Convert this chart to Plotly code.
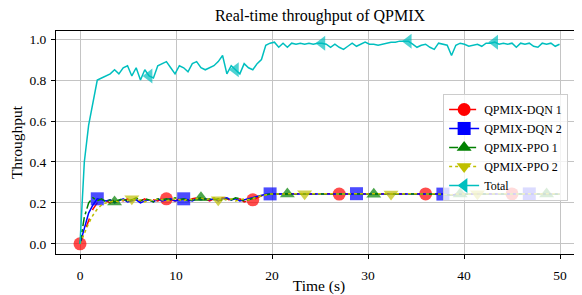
import plotly.graph_objects as go

# ---- data (sampled every 0.45 s) ----
time = [round(i * 0.45, 2) for i in range(112)]

total = [0.0, 0.40, 0.58, 0.70, 0.80, 0.81, 0.82, 0.83, 0.85, 0.83,
         0.86, 0.87, 0.82, 0.86, 0.80, 0.85, 0.82, 0.81, 0.87, 0.88,
         0.89, 0.86, 0.83, 0.87, 0.86, 0.84, 0.88, 0.89, 0.86, 0.85,
         0.86, 0.87, 0.89, 0.92, 0.83, 0.87, 0.85, 0.83, 0.88, 0.86,
         0.85, 0.88, 0.90, 0.97, 0.98, 0.985, 0.96, 0.98, 0.96, 0.98,
         0.975, 0.98, 0.975, 0.98, 0.975, 0.98, 0.98, 0.975, 0.96, 0.975,
         0.96, 0.95, 0.965, 0.98, 0.965, 0.975, 0.985, 0.975, 0.975, 0.97,
         0.975, 0.98, 0.985, 0.985, 0.99, 0.99, 0.99, 0.975, 0.96, 0.97,
         0.975, 0.96, 0.95, 0.98, 0.975, 0.97, 0.92, 0.97, 0.98, 0.975,
         0.965, 0.97, 0.975, 0.965, 0.98, 0.98, 0.985, 0.975, 0.98, 0.975,
         0.98, 0.96, 0.98, 0.975, 0.98, 0.965, 0.96, 0.98, 0.975, 0.98,
         0.965, 0.975]

dqn1 = [0.0, 0.06, 0.12, 0.17, 0.20, 0.205, 0.21, 0.20, 0.215, 0.205,
        0.21, 0.22, 0.205, 0.215, 0.21, 0.22, 0.20, 0.215, 0.21, 0.22,
        0.22, 0.215, 0.21, 0.22, 0.215, 0.21, 0.22, 0.225, 0.215, 0.22,
        0.21, 0.22, 0.215, 0.225, 0.22, 0.21, 0.215, 0.22, 0.205, 0.21,
        0.215, 0.225, 0.235, 0.24, 0.245, 0.243, 0.245, 0.242, 0.244, 0.243,
        0.245, 0.244, 0.243, 0.245, 0.244, 0.243, 0.245, 0.244, 0.243, 0.244,
        0.243, 0.244, 0.245, 0.243, 0.244, 0.243, 0.244, 0.245, 0.244, 0.243,
        0.244, 0.243, 0.244, 0.245, 0.244, 0.243, 0.244, 0.243, 0.244, 0.245,
        0.244, 0.243, 0.244, 0.243, 0.244, 0.240, 0.238, 0.242, 0.244, 0.243,
        0.244, 0.243, 0.244, 0.245, 0.244, 0.243, 0.244, 0.243, 0.244, 0.243,
        0.244, 0.243, 0.244, 0.245, 0.244, 0.243, 0.244, 0.243, 0.244, 0.243,
        0.244, 0.243]

dqn2 = [0.0, 0.08, 0.15, 0.19, 0.22, 0.215, 0.21, 0.215, 0.20, 0.21,
        0.22, 0.205, 0.21, 0.215, 0.20, 0.21, 0.215, 0.205, 0.22, 0.21,
        0.215, 0.22, 0.21, 0.215, 0.22, 0.215, 0.21, 0.22, 0.215, 0.22,
        0.215, 0.22, 0.21, 0.22, 0.225, 0.215, 0.22, 0.21, 0.215, 0.22,
        0.225, 0.23, 0.238, 0.242, 0.244, 0.243, 0.244, 0.245, 0.243, 0.244,
        0.243, 0.245, 0.244, 0.243, 0.244, 0.245, 0.243, 0.244, 0.243, 0.244,
        0.245, 0.243, 0.244, 0.243, 0.245, 0.244, 0.243, 0.244, 0.245, 0.243,
        0.244, 0.243, 0.245, 0.244, 0.243, 0.244, 0.245, 0.243, 0.244, 0.243,
        0.244, 0.245, 0.243, 0.244, 0.243, 0.239, 0.237, 0.241, 0.243, 0.244,
        0.243, 0.245, 0.244, 0.243, 0.244, 0.245, 0.243, 0.244, 0.243, 0.244,
        0.245, 0.243, 0.244, 0.243, 0.244, 0.245, 0.243, 0.244, 0.243, 0.244,
        0.243, 0.244]

ppo1 = [0.0, 0.13, 0.20, 0.225, 0.21, 0.22, 0.205, 0.215, 0.205, 0.215,
        0.22, 0.21, 0.215, 0.225, 0.21, 0.22, 0.215, 0.205, 0.22, 0.215,
        0.22, 0.215, 0.225, 0.215, 0.22, 0.21, 0.215, 0.22, 0.225, 0.215,
        0.22, 0.215, 0.22, 0.21, 0.22, 0.215, 0.225, 0.22, 0.21, 0.215,
        0.22, 0.228, 0.236, 0.24, 0.243, 0.244, 0.242, 0.243, 0.244, 0.243,
        0.244, 0.242, 0.243, 0.244, 0.243, 0.242, 0.244, 0.243, 0.244, 0.242,
        0.243, 0.244, 0.243, 0.242, 0.244, 0.243, 0.244, 0.243, 0.242, 0.244,
        0.243, 0.244, 0.242, 0.243, 0.244, 0.243, 0.242, 0.244, 0.243, 0.244,
        0.243, 0.242, 0.244, 0.243, 0.241, 0.238, 0.239, 0.242, 0.243, 0.244,
        0.243, 0.242, 0.244, 0.243, 0.244, 0.243, 0.242, 0.244, 0.243, 0.244,
        0.243, 0.242, 0.244, 0.243, 0.244, 0.243, 0.242, 0.244, 0.243, 0.244,
        0.243, 0.242]

ppo2 = [0.0, 0.05, 0.10, 0.14, 0.17, 0.19, 0.20, 0.205, 0.21, 0.205,
        0.215, 0.21, 0.22, 0.21, 0.215, 0.205, 0.215, 0.21, 0.22, 0.215,
        0.21, 0.215, 0.22, 0.215, 0.21, 0.22, 0.215, 0.22, 0.225, 0.215,
        0.22, 0.225, 0.215, 0.22, 0.215, 0.22, 0.21, 0.215, 0.22, 0.215,
        0.22, 0.228, 0.235, 0.24, 0.243, 0.244, 0.243, 0.245, 0.244, 0.245,
        0.244, 0.243, 0.245, 0.244, 0.245, 0.243, 0.244, 0.245, 0.244, 0.243,
        0.245, 0.244, 0.243, 0.245, 0.244, 0.245, 0.243, 0.244, 0.245, 0.244,
        0.243, 0.245, 0.244, 0.245, 0.243, 0.244, 0.245, 0.244, 0.243, 0.245,
        0.244, 0.243, 0.245, 0.244, 0.242, 0.239, 0.240, 0.243, 0.244, 0.245,
        0.244, 0.243, 0.245, 0.244, 0.245, 0.243, 0.244, 0.245, 0.244, 0.243,
        0.245, 0.244, 0.243, 0.245, 0.244, 0.245, 0.243, 0.244, 0.245, 0.244,
        0.243, 0.244]

series_names = ["QPMIX-DQN 1", "QPMIX-DQN 2", "QPMIX-PPO 1", "QPMIX-PPO 2", "Total"]
series_values = [dqn1, dqn2, ppo1, ppo2, total]
x_ticks = [0, 10, 20, 30, 40, 50]
y_ticks = [0.0, 0.2, 0.4, 0.6, 0.8, 1.0]

# ---- styles ----
colors = ["#FF0000", "#0000FF", "#008000", "#BFBF00", "#00BFBF"]
dashes = ["dash", "solid", "dashdot", "dot", "solid"]
symbols = ["circle", "square", "triangle-up", "triangle-down", "triangle-left"]
mark_every = 20
mark_offsets = [0, 4, 8, 12, 16]
MSIZE = 13

FONT = "Liberation Serif, Times New Roman, serif"

fig = go.Figure()
for name, vals, c, d, s, off in zip(series_names, series_values, colors, dashes, symbols, mark_offsets):
    sizes = [MSIZE if (i - off) >= 0 and (i - off) % mark_every == 0 else 0 for i in range(len(vals))]
    fig.add_trace(go.Scatter(
        x=time[:len(vals)], y=vals, name=name, mode="lines+markers",
        line=dict(color=c, width=1.5, dash=d),
        marker=dict(symbol=s, size=sizes, color=c, line=dict(width=0)),
        showlegend=False, legendgroup=name,
    ))
# legend entries (no plotted marks)
for name, c, d, s in zip(series_names, colors, dashes, symbols):
    fig.add_trace(go.Scatter(
        x=[None], y=[None], name=name, mode="lines+markers",
        line=dict(color=c, width=1.5, dash=d),
        marker=dict(symbol=s, size=MSIZE, color=c, line=dict(width=0)),
        showlegend=True, legendgroup=name,
    ))

# page body adds an 8px margin, so the figure is sized/placed to compensate
fig.update_layout(
    width=574, height=287,
    margin=dict(l=48, r=0, t=23, b=41, autoexpand=False),
    paper_bgcolor="white", plot_bgcolor="white",
    font=dict(family=FONT, size=13.5, color="black"),
    title=dict(text="Real-time throughput of QPMIX", x=0.5436, xanchor="center",
               y=0.9756, yanchor="middle", font=dict(size=16, family=FONT)),
    legend=dict(x=0.736, y=0.7175, xanchor="left", yanchor="top",
                bgcolor="rgba(255,255,255,0.8)", bordercolor="#cccccc", borderwidth=1,
                font=dict(size=12, family=FONT), tracegroupgap=0),
    showlegend=True,
)
fig.update_xaxes(
    range=[-2.5, 52.29], tickvals=x_ticks, ticktext=[str(v) for v in x_ticks],
    showgrid=True, gridcolor="#c4c4c4", gridwidth=1,
    showline=True, linecolor="black", linewidth=1, mirror=True,
    ticks="outside", ticklen=4, tickcolor="black", ticklabelstandoff=5,
    zeroline=False, automargin=False,
    title=dict(text="Time (s)", font=dict(size=15.5, family=FONT), standoff=0),
)
fig.update_yaxes(
    range=[-0.0495, 1.0395], tickvals=y_ticks, ticktext=["%.1f" % v for v in y_ticks],
    showgrid=True, gridcolor="#c4c4c4", gridwidth=1,
    showline=True, linecolor="black", linewidth=1, mirror=False,
    ticks="outside", ticklen=4, tickcolor="black", ticklabelstandoff=2,
    zeroline=False, automargin=False,
    title=dict(text="Throughput", font=dict(size=15.5, family=FONT), standoff=4),
)

fig.write_html("out.html")
